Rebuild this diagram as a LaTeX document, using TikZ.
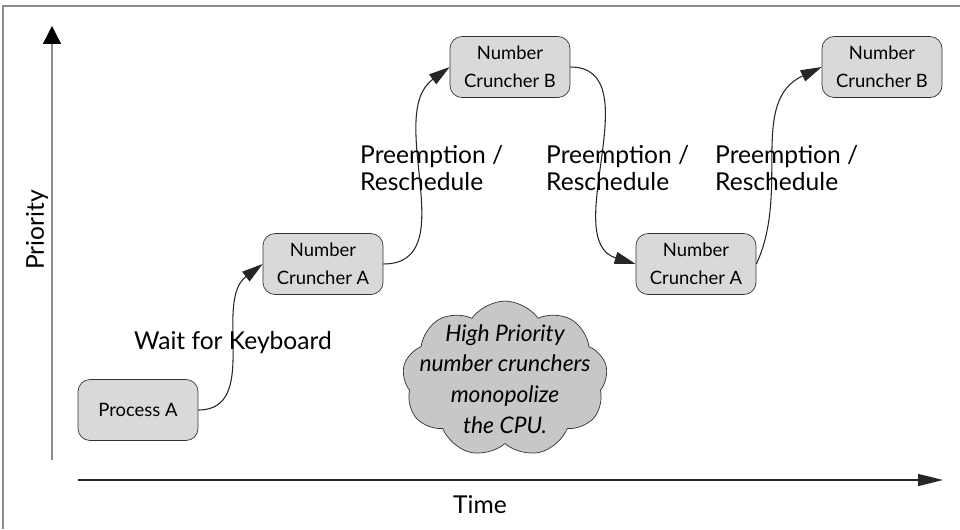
\documentclass[tikz,border=0pt]{standalone}
\usepackage{fontspec}
\setmainfont{Lato}
\usepackage{tikz}
\usetikzlibrary{arrows.meta,positioning,shapes.symbols}
\definecolor{colortask}{rgb}{0.85, 0.85, 0.85}
\definecolor{colorcloud}{rgb}{0.78, 0.78, 0.78}
\definecolor{colorframe}{rgb}{0.55, 0.55, 0.55}
\tikzstyle{task}=[rectangle, rounded corners=0.24cm, minimum width=2.4cm, minimum height=1.22cm, draw=black!80, fill=colortask, align=center, font=\fontsize{10.5}{16}\selectfont]
\tikzstyle{annot}=[align=left, anchor=west, font=\fontsize{14}{15.5}\selectfont]
\tikzstyle{axislabel}=[font=\fontsize{14}{16}\selectfont]
\tikzstyle{blob}=[cloud, cloud puffs=9, cloud puff arc=110, aspect=1.5, inner sep=-0.34cm, draw=black!80, fill=colorcloud, align=center, font=\fontsize{13}{17.5}\selectfont\itshape]
\tikzstyle{switch}=[draw=black!85, line width=0.6pt, -{Triangle[length=0.42cm, width=0.24cm]}]

\begin{document}
\begin{tikzpicture}[x=0.02cm, y=0.02cm]
		\useasboundingbox (0, 0) rectangle (960, 529);
		
		% frame
		\draw[colorframe, line width=1.1pt] (3, 0) -- (3, 523) -- (960, 523);
		
		% axes
		\coordinate (ybot) at (52, 69);
		\coordinate (ytop) at (52, 503);
		\coordinate (xleft) at (78, 49);
		\coordinate (xright) at (943, 49);
		\draw[colorframe, line width=0.8pt, -{Triangle[length=0.36cm, width=0.36cm, color=black]}] (ybot) -- (ytop);
		\draw[black!85, line width=0.7pt, -{Triangle[length=0.5cm, width=0.24cm]}] (xleft) -- (xright);
		\node[axislabel, rotate=90] at (37, 299) (prio) {Priority};
		\node[axislabel] at (480, 24) (time) {Time};
		
		% tasks
		\node[task] at (138, 119) (pa) {Process A};
		\node[task] at (323, 265) (nca1) {Number\\Cruncher A};
		\node[task] at (510, 462) (ncb1) {Number\\Cruncher B};
		\node[task] at (696, 265) (nca2) {Number\\Cruncher A};
		\node[task] at (882, 462) (ncb2) {Number\\Cruncher B};
		
		% switches
		\draw[switch] (pa.east) to[out=0, in=217] (nca1.west);
		\draw[switch] (nca1.east) to[out=0, in=216] (ncb1.west);
		\draw[switch] (ncb1.east) to[out=0, in=163] (nca2.west);
		\draw[switch] (nca2.east) to[out=65, in=205] (ncb2.west);
		
		\node[axislabel] at (233, 186) (wait) {Wait for Keyboard};
		\node[annot] at (354, 361) (pre1) {Preemption /\\Reschedule};
		\node[annot] at (540, 361) (pre2) {Preemption /\\Reschedule};
		\node[annot] at (709, 361) (pre3) {Preemption /\\Reschedule};
		
		\node[blob] at (505, 150) (hog) {High Priority\\number crunchers\\monopolize\\the CPU.};
		
\end{tikzpicture}
\end{document}
